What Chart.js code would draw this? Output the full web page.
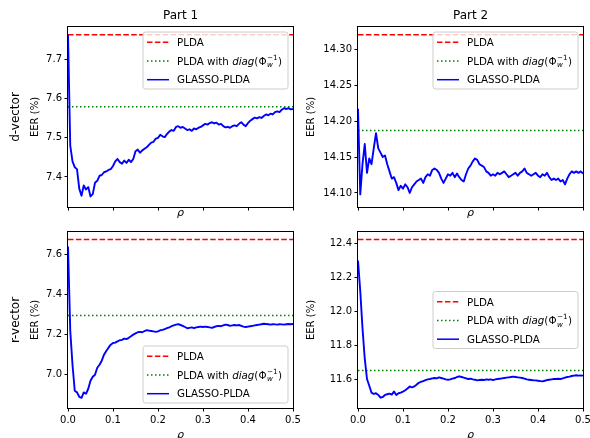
<!DOCTYPE html>
<html><head><meta charset="utf-8">
<script src="https://cdn.jsdelivr.net/npm/chart.js@4/dist/chart.umd.min.js"></script>
<style>
html,body{margin:0;padding:0;width:590px;height:438px;overflow:hidden;background:#fff;}
canvas{position:absolute;left:0;top:0;}
</style></head><body>
<canvas id="c0" width="590" height="460"></canvas>
<canvas id="c1" width="590" height="460"></canvas>
<canvas id="c2" width="590" height="460"></canvas>
<canvas id="c3" width="590" height="460"></canvas>
<script>
// ---------------- data ----------------
const partTitles = ['Part 1', 'Part 2'];
const rowLabels = ['d-vector', 'r-vector'];
const seriesLabels = ['PLDA', 'PLDA with diag(Φw−1)', 'GLASSO-PLDA'];
const xTicks = ['0.0', '0.1', '0.2', '0.3', '0.4', '0.5'];
const yTicksD1 = ['7.4', '7.5', '7.6', '7.7'];
const yTicksD2 = ['14.10', '14.15', '14.20', '14.25', '14.30'];
const yTicksR1 = ['7.0', '7.2', '7.4', '7.6'];
const yTicksR2 = ['11.6', '11.8', '12.0', '12.2', '12.4'];
const yRanges = [[7.323, 7.784], [14.0805, 14.3307], [6.834, 7.712], [11.429, 12.468]];
const pldaEER = [7.764, 14.32, 7.675, 12.424];
const diagEER = [7.58, 14.187, 7.295, 11.651];

const rho = [0, 0.005, 0.01, 0.015, 0.02, 0.025, 0.03, 0.035, 0.04, 0.045,
  0.05, 0.055, 0.06, 0.065, 0.07, 0.075, 0.08, 0.085, 0.09, 0.095,
  0.1, 0.105, 0.11, 0.115, 0.12, 0.125, 0.13, 0.135, 0.14, 0.145,
  0.15, 0.155, 0.16, 0.165, 0.17, 0.175, 0.18, 0.185, 0.19, 0.195,
  0.2, 0.205, 0.21, 0.215, 0.22, 0.225, 0.23, 0.235, 0.24, 0.245,
  0.25, 0.255, 0.26, 0.265, 0.27, 0.275, 0.28, 0.285, 0.29, 0.295,
  0.3, 0.305, 0.31, 0.315, 0.32, 0.325, 0.33, 0.335, 0.34, 0.345,
  0.35, 0.355, 0.36, 0.365, 0.37, 0.375, 0.38, 0.385, 0.39, 0.395,
  0.4, 0.405, 0.41, 0.415, 0.42, 0.425, 0.43, 0.435, 0.44, 0.445,
  0.45, 0.455, 0.46, 0.465, 0.47, 0.475, 0.48, 0.485, 0.49, 0.495, 0.5];

const dvecPart1 = [7.764, 7.48, 7.44, 7.425, 7.42, 7.37, 7.352, 7.378, 7.368, 7.374,
  7.35, 7.356, 7.385, 7.39, 7.403, 7.405, 7.412, 7.414, 7.418, 7.42,
  7.428, 7.44, 7.446, 7.438, 7.434, 7.442, 7.436, 7.444, 7.438, 7.446,
  7.466, 7.47, 7.462, 7.468, 7.472, 7.476, 7.482, 7.488, 7.49, 7.498,
  7.5, 7.508, 7.504, 7.502, 7.51, 7.516, 7.52, 7.518, 7.528, 7.53,
  7.526, 7.528, 7.524, 7.52, 7.522, 7.518, 7.524, 7.522, 7.526, 7.528,
  7.532, 7.536, 7.534, 7.538, 7.54, 7.537, 7.539, 7.534, 7.536, 7.53,
  7.527, 7.528, 7.526, 7.53, 7.532, 7.53, 7.536, 7.54, 7.534, 7.53,
  7.538, 7.544, 7.548, 7.552, 7.55, 7.553, 7.551, 7.556, 7.56, 7.558,
  7.562, 7.56, 7.566, 7.568, 7.566, 7.572, 7.576, 7.574, 7.576, 7.573, 7.574];

const dvecPart2 = [14.217, 14.098, 14.14, 14.168, 14.128, 14.148, 14.14, 14.162, 14.183, 14.162,
  14.156, 14.15, 14.152, 14.14, 14.13, 14.12, 14.122, 14.114, 14.104, 14.11,
  14.106, 14.112, 14.108, 14.1, 14.108, 14.112, 14.116, 14.118, 14.12, 14.114,
  14.122, 14.126, 14.124, 14.132, 14.134, 14.132, 14.128, 14.12, 14.114, 14.12,
  14.126, 14.124, 14.128, 14.122, 14.127, 14.122, 14.118, 14.116, 14.126, 14.134,
  14.138, 14.144, 14.148, 14.146, 14.14, 14.138, 14.136, 14.13, 14.128, 14.124,
  14.126, 14.124, 14.128, 14.126, 14.128, 14.13, 14.126, 14.122, 14.124, 14.126,
  14.128, 14.124, 14.128, 14.13, 14.134, 14.128, 14.126, 14.124, 14.126, 14.128,
  14.124, 14.122, 14.126, 14.124, 14.128, 14.122, 14.118, 14.12, 14.118, 14.12,
  14.116, 14.118, 14.112, 14.12, 14.126, 14.13, 14.128, 14.13, 14.128, 14.13, 14.127];

const rvecPart1 = [7.64, 7.22, 7.05, 6.92, 6.912, 6.89, 6.885, 6.912, 6.905, 6.93,
  6.97, 6.99, 7.0, 7.035, 7.05, 7.07, 7.1, 7.118, 7.135, 7.15,
  7.158, 7.16, 7.166, 7.172, 7.174, 7.18, 7.178, 7.184, 7.192, 7.2,
  7.206, 7.212, 7.214, 7.212, 7.218, 7.222, 7.22, 7.218, 7.216, 7.214,
  7.216, 7.222, 7.224, 7.228, 7.232, 7.236, 7.242, 7.246, 7.25, 7.252,
  7.248, 7.244, 7.238, 7.232, 7.234, 7.236, 7.232, 7.236, 7.238, 7.24,
  7.238, 7.24, 7.238, 7.236, 7.234, 7.238, 7.242, 7.244, 7.242, 7.246,
  7.25, 7.248, 7.244, 7.246, 7.248, 7.246, 7.248, 7.244, 7.24, 7.238,
  7.24, 7.242, 7.244, 7.246, 7.248, 7.25, 7.252, 7.254, 7.253, 7.252,
  7.25, 7.252, 7.251, 7.25, 7.252, 7.251, 7.25, 7.252, 7.253, 7.252, 7.253];

const rvecPart2 = [12.3, 12.12, 11.9, 11.72, 11.6, 11.56, 11.52, 11.512, 11.516, 11.506,
  11.49, 11.494, 11.506, 11.51, 11.514, 11.508, 11.526, 11.506, 11.516, 11.52,
  11.526, 11.534, 11.544, 11.556, 11.55, 11.556, 11.566, 11.578, 11.584, 11.588,
  11.594, 11.598, 11.6, 11.604, 11.606, 11.604, 11.61, 11.606, 11.602, 11.598,
  11.596, 11.598, 11.602, 11.606, 11.612, 11.616, 11.612, 11.608, 11.604, 11.6,
  11.602, 11.598, 11.596, 11.592, 11.594, 11.596, 11.594, 11.598, 11.596, 11.598,
  11.594, 11.598, 11.6, 11.602, 11.604, 11.606, 11.608, 11.61, 11.612, 11.614,
  11.612, 11.61, 11.608, 11.606, 11.602, 11.598, 11.596, 11.594, 11.592, 11.592,
  11.59, 11.588, 11.586, 11.59, 11.594, 11.596, 11.598, 11.6, 11.6, 11.602,
  11.6, 11.604, 11.608, 11.612, 11.614, 11.618, 11.62, 11.622, 11.62, 11.621, 11.62];

// ---------------- rendering ----------------
const FONT = "'DejaVu Sans', sans-serif";
Chart.defaults.font.family = FONT;
Chart.defaults.font.size = 10;
Chart.defaults.color = '#000';

const legendParts = [
  [{t: 'PLDA'}],
  [{t: 'PLDA with '}, {t: 'diag', it: true}, {t: '(Φ'}, {sub: 'w', sup: '−1'}, {t: ')'}],
  [{t: 'GLASSO-PLDA'}]
];

const decorPlugin = {
  id: 'decor',
  afterDatasetsDraw(chart, args, o) {
    const ctx = chart.ctx, a = chart.chartArea;
    ctx.save();
    // frame (spines)
    ctx.setLineDash([]);
    ctx.strokeStyle = '#000';
    ctx.lineWidth = 1;
    ctx.strokeRect(Math.round(a.left) - 0.5, Math.round(a.top) - 0.5,
      Math.round(a.right - a.left) + 1, Math.round(a.bottom - a.top) + 1);
    // legend
    const bw = 145, bh = 57;
    const bx = a.right - 5 - bw;
    let by;
    if (o.legendLoc === 'upper right') by = a.top + 5;
    else if (o.legendLoc === 'lower right') by = a.bottom - 5 - bh;
    else by = (a.top + a.bottom) / 2 - bh / 2;
    const r = 2.5;
    ctx.beginPath();
    ctx.moveTo(bx + r, by);
    ctx.lineTo(bx + bw - r, by); ctx.quadraticCurveTo(bx + bw, by, bx + bw, by + r);
    ctx.lineTo(bx + bw, by + bh - r); ctx.quadraticCurveTo(bx + bw, by + bh, bx + bw - r, by + bh);
    ctx.lineTo(bx + r, by + bh); ctx.quadraticCurveTo(bx, by + bh, bx, by + bh - r);
    ctx.lineTo(bx, by + r); ctx.quadraticCurveTo(bx, by, bx + r, by);
    ctx.closePath();
    ctx.fillStyle = 'rgba(255,255,255,0.8)';
    ctx.fill();
    ctx.strokeStyle = '#cccccc';
    ctx.lineWidth = 1;
    ctx.stroke();
    const order = [0, 1, 2];
    order.forEach((di, i) => {
      const ds = chart.data.datasets[di];
      const cy = by + 10.3 + i * 18.7;
      ctx.beginPath();
      ctx.setLineDash(ds.borderDash || []);
      ctx.lineCap = 'butt';
      ctx.strokeStyle = ds.borderColor;
      ctx.lineWidth = 1.5;
      ctx.moveTo(bx + 4, cy);
      ctx.lineTo(bx + 26, cy);
      ctx.stroke();
      ctx.setLineDash([]);
      ctx.fillStyle = '#000';
      ctx.textAlign = 'left';
      ctx.textBaseline = 'alphabetic';
      let x = bx + 34;
      const base = cy + 3.7;
      for (const s of legendParts[di]) {
        if (s.t !== undefined) {
          ctx.font = (s.it ? 'italic ' : '') + '10.3px ' + FONT;
          ctx.fillText(s.t, x, base);
          x += ctx.measureText(s.t).width;
        } else {
          ctx.font = 'italic 7.2px ' + FONT;
          ctx.fillText(s.sub, x + 0.5, base + 2.5);
          const w1 = ctx.measureText(s.sub).width;
          ctx.font = '7.2px ' + FONT;
          ctx.fillText(s.sup, x + 0.5, base - 5);
          const w2 = ctx.measureText(s.sup).width;
          x += Math.max(w1, w2) + 1;
        }
      }
    });
    ctx.restore();
  },
  afterDraw(chart, args, o) {
    const ctx = chart.ctx, a = chart.chartArea;
    ctx.save();
    ctx.fillStyle = '#000';
    ctx.textAlign = 'center';
    ctx.textBaseline = 'middle';
    if (o.title) {
      ctx.font = '12px ' + FONT;
      ctx.fillText(o.title, (a.left + a.right) / 2, a.top - 11);
    }
    if (o.row) {
      ctx.font = '12px ' + FONT;
      ctx.translate(16, (a.top + a.bottom) / 2);
      ctx.rotate(-Math.PI / 2);
      ctx.fillText(o.row, 0, 0);
    }
    ctx.restore();
  }
};

const panels = [
  {canvas: 'c0', glasso: dvecPart1, plda: pldaEER[0], diag: diagEER[0], yr: yRanges[0], yTicks: yTicksD1,
   area: [68, 293, 27, 207], padLeft: 29, xAxisH: 13, showX: false, legendLoc: 'upper right', title: partTitles[0], row: rowLabels[0]},
  {canvas: 'c1', glasso: dvecPart2, plda: pldaEER[1], diag: diagEER[1], yr: yRanges[1], yTicks: yTicksD2,
   area: [358, 583, 27, 207], padLeft: 305, xAxisH: 13, showX: false, legendLoc: 'upper right', title: partTitles[1], row: null},
  {canvas: 'c2', glasso: rvecPart1, plda: pldaEER[2], diag: diagEER[2], yr: yRanges[2], yTicks: yTicksR1,
   area: [68, 293, 232, 408], padLeft: 29, xAxisH: 34, showX: true, legendLoc: 'lower right', title: null, row: rowLabels[1]},
  {canvas: 'c3', glasso: rvecPart2, plda: pldaEER[3], diag: diagEER[3], yr: yRanges[3], yTicks: yTicksR2,
   area: [358, 583, 232, 408], padLeft: 305, xAxisH: 34, showX: true, legendLoc: 'center right', title: null, row: null}
];

panels.forEach(p => {
  const [l, r, t, b] = p.area;
  const yW = l - p.padLeft;
  new Chart(document.getElementById(p.canvas), {
    type: 'line',
    data: {
      datasets: [
        {label: seriesLabels[0], data: [{x: 0, y: p.plda}, {x: 0.5, y: p.plda}],
         borderColor: '#ff0000', borderDash: [5.5, 2.4], borderWidth: 1.5, order: 2},
        {label: seriesLabels[1], data: [{x: 0, y: p.diag}, {x: 0.5, y: p.diag}],
         borderColor: '#008000', borderDash: [1.5, 2.5], borderWidth: 1.5, order: 1},
        {label: seriesLabels[2], data: rho.map((x, i) => ({x: x, y: p.glasso[i]})),
         borderColor: '#0000ff', borderWidth: 1.9, order: 0}
      ]
    },
    options: {
      responsive: false, animation: false, events: [],
      elements: {point: {radius: 0}, line: {tension: 0, borderCapStyle: 'butt', borderJoinStyle: 'round'}},
      layout: {padding: {left: p.padLeft, right: 590 - r, top: t, bottom: 460 - b - p.xAxisH}},
      plugins: {
        legend: {display: false}, tooltip: {enabled: false}, title: {display: false},
        decor: {legendLoc: p.legendLoc, title: p.title, row: p.row}
      },
      scales: {
        x: {
          type: 'linear', min: 0, max: 0.5,
          afterBuildTicks: s => { s.ticks = xTicks.map(v => ({value: parseFloat(v)})); },
          afterFit: s => { s.height = p.xAxisH; s.paddingLeft = 0; s.paddingRight = 0; },
          ticks: {display: p.showX, padding: 2.5, maxRotation: 0, autoSkip: false,
                  callback: (v, i) => xTicks[i], color: '#000', font: {size: 10}},
          grid: {drawOnChartArea: false, drawTicks: true, tickLength: 3.5, tickColor: '#000', tickWidth: 1, color: '#000'},
          border: {display: false},
          title: {display: true, text: 'ρ', font: {size: 11, style: 'italic'}, padding: 0, color: '#000'}
        },
        y: {
          type: 'linear', min: p.yr[0], max: p.yr[1],
          afterBuildTicks: s => { s.ticks = p.yTicks.map(v => ({value: parseFloat(v)})); },
          afterFit: s => { s.width = yW; s.paddingTop = 0; s.paddingBottom = 0; },
          ticks: {padding: 2.5, autoSkip: false, callback: (v, i) => p.yTicks[i], color: '#000', font: {size: 10}},
          grid: {drawOnChartArea: false, drawTicks: true, tickLength: 3.5, tickColor: '#000', tickWidth: 1, color: '#000'},
          border: {display: false},
          title: {display: true, text: 'EER (%)', font: {size: 10}, padding: 0, color: '#000'}
        }
      }
    },
    plugins: [decorPlugin]
  });
});
</script>
</body></html>
